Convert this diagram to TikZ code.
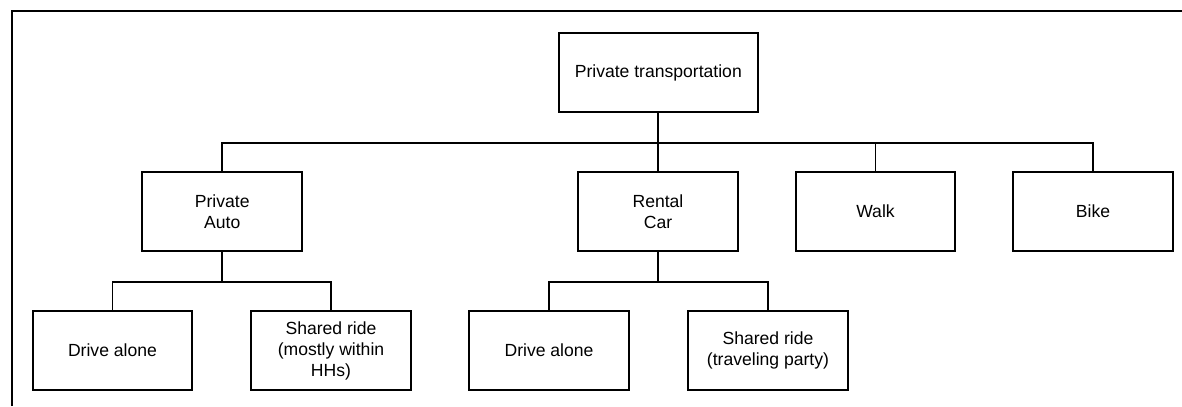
\documentclass[tikz,border=0pt]{standalone}
\usepackage{fontspec}
\setmainfont{Liberation Sans}
\begin{document}
\begin{tikzpicture}[x=.2mm, y=-.2mm, line width=1.1pt,
  box/.style={draw, align=center, minimum width=3.19cm, minimum height=1.58cm, inner sep=1pt, font=\fontsize{10}{12}\selectfont}]
\useasboundingbox (0,0) rectangle (1182,406);
\draw (11.7,406)--(11.7,11)--(1182,11);
\node[box, minimum width=3.98cm] (top) at (658.3,72.8) {Private transportation};
\node[box] (auto) at (222.2,211.5) {Private\\Auto};
\node[box] (rent) at (658,211.5) {Rental\\Car};
\node[box] (walk) at (875.5,211.5) {Walk};
\node[box] (bike) at (1093,211.5) {Bike};
\node[box] (alone1) at (112.5,350.7) {Drive alone};
\node[box] (share1) at (331,350.7) {Shared ride\\(mostly within\\HHs)};
\node[box] (alone2) at (549,350.7) {Drive alone};
\node[box] (share2) at (768,350.7) {Shared ride\\(traveling party)};
\coordinate (bus1) at (0,142.7);
\coordinate (bus2) at (0,281.7);
\draw (auto.north)|-(bike.north|-bus1)--(bike.north);
\foreach \n in {top.south,rent.north,walk.north}
  \draw (\n)--(\n|-bus1);
\draw (alone1.north)|-(share1.north|-bus2)--(share1.north);
\draw (auto.south)--(auto.south|-bus2);
\draw (alone2.north)|-(share2.north|-bus2)--(share2.north);
\draw (rent.south)--(rent.south|-bus2);
\end{tikzpicture}
\end{document}
